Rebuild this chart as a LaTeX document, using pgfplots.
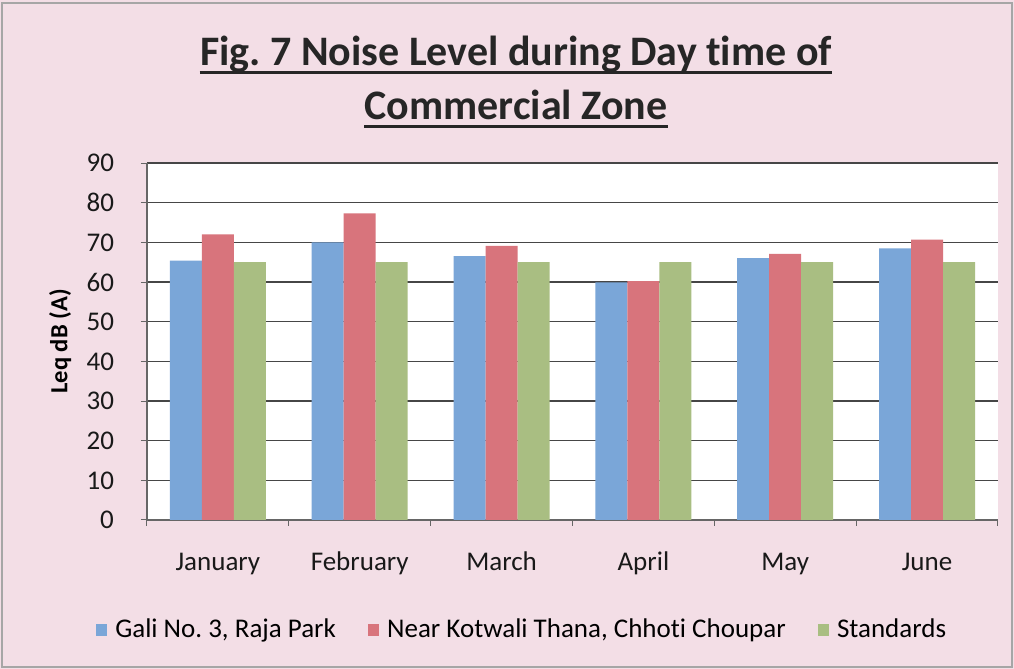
\documentclass[border=0pt]{standalone}
\usepackage{pgfplots}
\pgfplotsset{compat=1.18}
\usepackage{fontspec}
\setmainfont[Ligatures=NoCommon]{Carlito}
\frenchspacing
\definecolor{bgpink}{RGB}{243,222,230}
\definecolor{cblue}{RGB}{122,166,216}
\definecolor{cred}{RGB}{216,116,124}
\definecolor{cgreen}{RGB}{169,190,130}
\definecolor{gridc}{RGB}{70,70,70}
\pgfplotstableread{
x a b c
0 65.4 72.0 65
1 70.0 77.3 65
2 66.5 69.1 65
3 59.9 60.2 65
4 66.0 67.1 65
5 68.5 70.7 65
}\datatable
\begin{document}
\begin{tikzpicture}
\fill[bgpink] (-73.5pt,-74.5pt) rectangle (433.5pt,260pt);
\draw[gray!70, line width=0.6pt] (-72.5pt,-73.5pt) rectangle (432.5pt,258.5pt);
\begin{axis}[
  at={(0,0)}, anchor=south west,
  scale only axis,
  width=425.5pt, height=178.5pt,
  ybar=0pt, bar width=16pt,
  xmin=-0.5, xmax=5.5,
  ymin=0, ymax=90,
  ytick={0,10,...,90},
  xtick={0,...,5},
  xticklabels={January,February,March,April,May,June},
  minor xtick={-0.5,0.5,...,5.5},
  axis x line*=bottom, axis y line*=left,
  axis line style={draw=gray!80!black, line width=0.6pt},
  ymajorgrids, major grid style={draw=gridc, line width=0.6pt},
  axis background/.style={fill=white},
  tick style={draw=gray!80!black, line width=0.5pt},
  major tick length=3pt, minor tick length=3pt,
  tick align=outside,
  x tick style={draw=none},
  minor x tick style={draw=gray!80!black},
  ticklabel style={font=\fontsize{13.5}{16}\selectfont, text=black!90},
  /pgf/number format/assume math mode=true,
  xticklabel style={anchor=base, yshift=-22.5pt},
  yticklabel style={xshift=-10pt},
  ylabel={\textbf{Leq dB (A)}},
  ylabel style={font=\fontsize{12.3}{14}\selectfont, at={(axis description cs:-0.102,0.5)}, anchor=center},
  legend columns=3,
  legend style={at={(0.442,-0.308)}, anchor=center, draw=none, fill=none,
    font=\fontsize{13.5}{16}\selectfont,
    /tikz/every odd column/.append style={column sep=2pt},
    /tikz/every even column/.append style={column sep=14pt}},
  legend image code/.code={\fill[#1] (0pt,-2.8pt) rectangle (5.6pt,2.8pt);},
]
\addplot[fill=cblue, draw=none] table[x=x,y=a] {\datatable};
\addplot[fill=cred, draw=none] table[x=x,y=b] {\datatable};
\addplot[fill=cgreen, draw=none] table[x=x,y=c] {\datatable};
\legend{{Gali No. 3, Raja Park},{Near Kotwali Thana, Chhoti Choupar},{Standards}}
\end{axis}
\node[anchor=base, inner sep=0pt, font=\fontsize{21}{24}\selectfont\bfseries, text=black!85] (t1) at (184.5pt,227pt) {Fig. 7 Noise Level during Day time of};
\node[anchor=base, inner sep=0pt, font=\fontsize{21}{24}\selectfont\bfseries, text=black!85] (t2) at (184.5pt,200pt) {Commercial Zone};
\draw[line width=1.2pt, black!85] ([yshift=-3.2pt]t1.base west) -- ([yshift=-3.2pt]t1.base east);
\draw[line width=1.2pt, black!85] ([yshift=-3.2pt]t2.base west) -- ([yshift=-3.2pt]t2.base east);
\end{tikzpicture}
\end{document}
